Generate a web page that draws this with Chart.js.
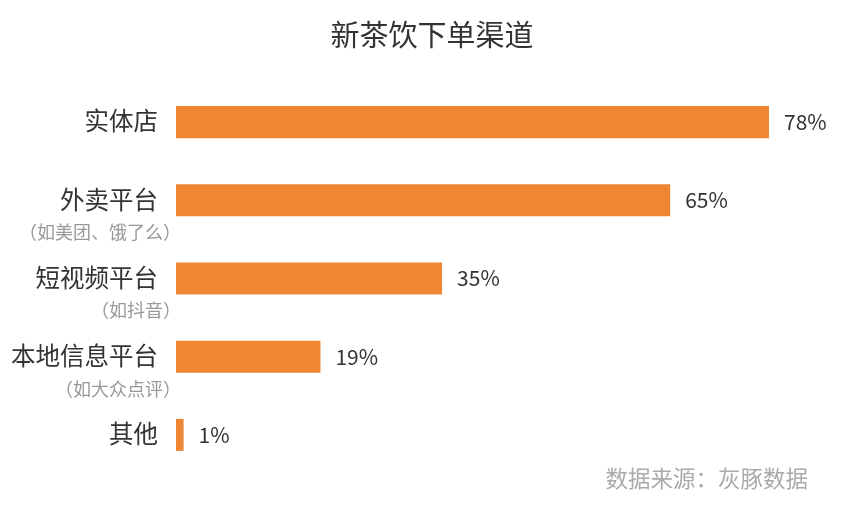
<!DOCTYPE html>
<html>
<head>
<meta charset="utf-8">
<script src="https://cdn.jsdelivr.net/npm/chart.js@4"></script>
<style>
  body { margin: 0; background: #fff; }
  #wrap { width: 864px; height: 519px; }
</style>
</head>
<body>
<div id="wrap"><canvas id="chart"></canvas></div>
<script>
// Data
const categories = ['实体店', '外卖平台', '短视频平台', '本地信息平台', '其他'];
const subLabels = ['', '（如美团、饿了么）', '（如抖音）', '（如大众点评）', ''];
const shares = [78, 65, 35, 19, 1];

const FONT = '"Noto Sans CJK SC", "Noto Sans", sans-serif';

// Draws title, source, category labels and value labels
const textPlugin = {
    id: 'texts',
    afterDraw(chart) {
        const ctx = chart.ctx;
        const y = chart.scales.y;
        const meta = chart.getDatasetMeta(0);
        ctx.save();
        ctx.textBaseline = 'middle';

        ctx.fillStyle = '#333';
        ctx.font = '29px ' + FONT;
        ctx.textAlign = 'center';
        ctx.fillText('新茶饮下单渠道', 432, 35);

        ctx.fillStyle = '#aaa';
        ctx.font = '22.5px ' + FONT;
        ctx.textAlign = 'right';
        ctx.fillText('数据来源：灰豚数据', 808, 478);

        categories.forEach((c, i) => {
            const cy = y.getPixelForValue(i);
            ctx.textAlign = 'right';
            ctx.fillStyle = '#333';
            ctx.font = '24.5px ' + FONT;
            ctx.fillText(c, 158, cy - 1);
            if (subLabels[i]) {
                ctx.fillStyle = '#999';
                ctx.font = '18px ' + FONT;
                ctx.fillText(subLabels[i], 181, cy + 32);
            }
            const bar = meta.data[i];
            ctx.textAlign = 'left';
            ctx.fillStyle = '#333';
            ctx.font = '21px ' + FONT;
            ctx.fillText(shares[i] + '%', bar.x + 15, cy);
        });
        ctx.restore();
    }
};

new Chart(document.getElementById('chart'), {
    type: 'bar',
    data: {
        labels: categories,
        datasets: [{
            data: shares,
            backgroundColor: '#EE8633',
            categoryPercentage: 0.41,
            barPercentage: 1
        }]
    },
    options: {
        indexAxis: 'y',
        responsive: true,
        maintainAspectRatio: false,
        animation: false,
        layout: { padding: { left: 176, right: 19, top: 83, bottom: 45 } },
        plugins: { legend: { display: false }, tooltip: { enabled: false } },
        scales: {
            x: { display: false, min: 0, max: 88 },
            y: { display: false }
        }
    },
    plugins: [textPlugin]
});
</script>
</body>
</html>
